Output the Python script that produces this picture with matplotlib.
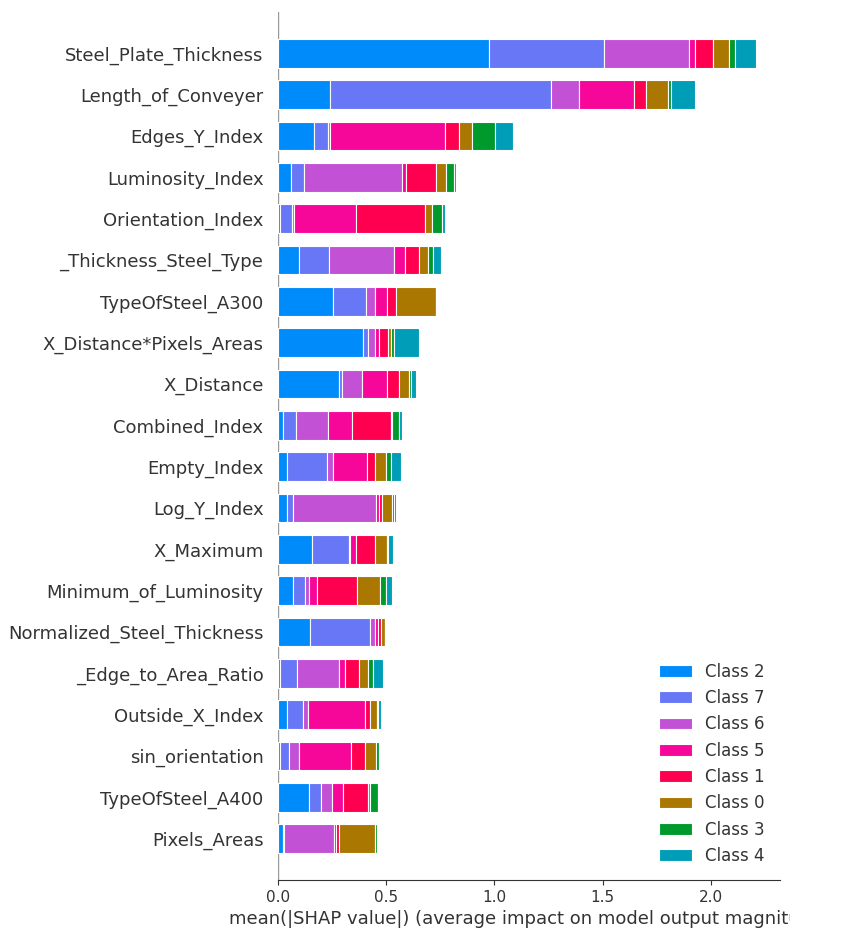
import matplotlib
matplotlib.use("Agg")
import matplotlib.pyplot as plt
import numpy as np
from matplotlib.transforms import Bbox, TransformedBbox

features = ["Steel_Plate_Thickness", "Length_of_Conveyer", "Edges_Y_Index", "Luminosity_Index",
            "Orientation_Index", "_Thickness_Steel_Type", "TypeOfSteel_A300", "X_Distance*Pixels_Areas",
            "X_Distance", "Combined_Index", "Empty_Index", "Log_Y_Index", "X_Maximum",
            "Minimum_of_Luminosity", "Normalized_Steel_Thickness", "_Edge_to_Area_Ratio",
            "Outside_X_Index", "sin_orientation", "TypeOfSteel_A400", "Pixels_Areas"]

class_names = ["Class 2", "Class 7", "Class 6", "Class 5", "Class 1", "Class 0", "Class 3", "Class 4"]
class_colors = ["#008BFB", "#6877F5", "#C251D5", "#F7069A", "#FF0051", "#AA7700", "#00992B", "#009DB9"]

class2 = [0.973, 0.240, 0.166, 0.060, 0.009, 0.097, 0.254, 0.393, 0.283, 0.023, 0.042, 0.042, 0.159, 0.071, 0.149, 0.009, 0.042, 0.009, 0.145, 0.025]
class7 = [0.532, 1.022, 0.066, 0.060, 0.055, 0.139, 0.154, 0.023, 0.012, 0.062, 0.186, 0.028, 0.170, 0.055, 0.277, 0.079, 0.075, 0.042, 0.054, 0.003]
class6 = [0.393, 0.129, 0.008, 0.453, 0.009, 0.301, 0.042, 0.032, 0.094, 0.148, 0.028, 0.384, 0.005, 0.018, 0.023, 0.196, 0.023, 0.048, 0.052, 0.229]
class5 = [0.031, 0.253, 0.532, 0.018, 0.287, 0.051, 0.055, 0.018, 0.116, 0.111, 0.157, 0.014, 0.028, 0.036, 0.014, 0.026, 0.264, 0.240, 0.051, 0.009]
class1 = [0.080, 0.057, 0.065, 0.139, 0.319, 0.062, 0.042, 0.042, 0.055, 0.176, 0.037, 0.014, 0.088, 0.186, 0.014, 0.062, 0.022, 0.065, 0.116, 0.018]
class0 = [0.074, 0.103, 0.060, 0.046, 0.032, 0.042, 0.182, 0.015, 0.046, 0.008, 0.051, 0.046, 0.055, 0.105, 0.017, 0.046, 0.031, 0.051, 0.008, 0.166]
class3 = [0.031, 0.012, 0.106, 0.037, 0.046, 0.023, 0.000, 0.014, 0.009, 0.032, 0.023, 0.008, 0.005, 0.029, 0.002, 0.023, 0.006, 0.012, 0.034, 0.008]
class4 = [0.097, 0.111, 0.083, 0.009, 0.014, 0.039, 0.000, 0.114, 0.022, 0.014, 0.045, 0.011, 0.023, 0.026, 0.002, 0.046, 0.015, 0.002, 0.008, 0.001]

series = [class2, class7, class6, class5, class1, class0, class3, class4]

axis_color = "#333333"
fig = plt.figure(figsize=(8.41, 9.52), dpi=100)
ax = fig.add_axes([0.3306, 0.0756, 0.597, 0.9118])

n = len(features)
ypos = np.arange(n)[::-1]
left = np.zeros(n)
for name, col, vals in zip(class_names, class_colors, series):
    v = np.array(vals)
    ax.barh(ypos, v, 0.7, left=left, align="center", color=col, label=name,
            edgecolor="white", linewidth=0.8)
    left += v

ax.axvline(0, color="#999999", linewidth=1, zorder=-1)
ax.set_ylim(-1, n)
ax.set_xlim(0, 2.321)
ax.set_yticks(np.arange(n))
ax.set_yticklabels(features[::-1], fontsize=13)
ax.tick_params(axis="y", length=0, pad=10.5, labelcolor=axis_color)
ax.tick_params(axis="x", color=axis_color, labelcolor=axis_color, labelsize=11)
for s in ["top", "right", "left"]:
    ax.spines[s].set_visible(False)
ax.spines["bottom"].set_color(axis_color)
ax.xaxis.set_ticks_position("bottom")

lbl = ax.set_xlabel("mean(|SHAP value|) (average impact on model output magnitude)",
                    fontsize=13, color=axis_color)
lbl.set_clip_on(True)
lbl.set_clip_box(TransformedBbox(Bbox([[0, 0], [790 / 841, 1]]), fig.transFigure))

leg = ax.legend(frameon=False, fontsize=12, loc="lower right", bbox_to_anchor=(1.0, 0.0))
for t in leg.get_texts():
    t.set_color(axis_color)

fig.savefig("out.png", dpi=100)
